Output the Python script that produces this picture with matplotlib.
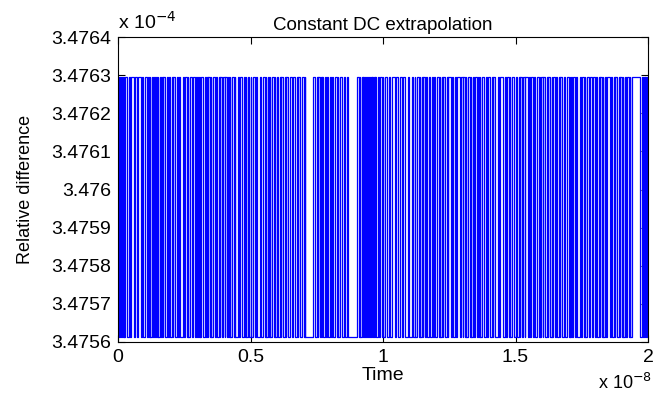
import numpy as np
import matplotlib.pyplot as plt

plt.rcParams['font.family'] = ['Liberation Sans', 'DejaVu Sans']

# switching instants of the relative difference, in units of 1e-8 s
switch_times = [
    0.004, 0.008, 0.011, 0.015, 0.021, 0.026, 0.034, 0.049, 0.072, 0.075,
    0.094, 0.102, 0.109, 0.113, 0.121, 0.128, 0.140, 0.143, 0.151, 0.158,
    0.162, 0.170, 0.177, 0.185, 0.196, 0.208, 0.215, 0.223, 0.234, 0.253,
    0.264, 0.272, 0.279, 0.283, 0.298, 0.302, 0.309, 0.313, 0.321, 0.328,
    0.332, 0.340, 0.351, 0.358, 0.374, 0.385, 0.392, 0.404, 0.411, 0.415,
    0.423, 0.430, 0.442, 0.460, 0.468, 0.475, 0.483, 0.491, 0.502, 0.509,
    0.525, 0.547, 0.558, 0.566, 0.574, 0.581, 0.592, 0.600, 0.604, 0.615,
    0.623, 0.634, 0.642, 0.649, 0.668, 0.679, 0.687, 0.694, 0.706, 0.736,
    0.743, 0.755, 0.762, 0.770, 0.774, 0.781, 0.792, 0.800, 0.811, 0.819,
    0.830, 0.838, 0.845, 0.864, 0.868, 0.902, 0.913, 0.925, 0.928, 0.932,
    0.936, 0.940, 0.943, 0.947, 0.951, 0.958, 0.962, 0.970, 0.974, 0.989,
    1.000, 1.008, 1.015, 1.034, 1.057, 1.064, 1.083, 1.109, 1.121, 1.128,
    1.140, 1.151, 1.166, 1.185, 1.196, 1.204, 1.215, 1.226, 1.234, 1.245,
    1.264, 1.279, 1.291, 1.302, 1.313, 1.321, 1.332, 1.347, 1.355, 1.358,
    1.366, 1.374, 1.381, 1.396, 1.404, 1.415, 1.423, 1.442, 1.453, 1.468,
    1.479, 1.487, 1.506, 1.517, 1.525, 1.536, 1.547, 1.558, 1.574, 1.581,
    1.592, 1.604, 1.611, 1.623, 1.638, 1.642, 1.657, 1.668, 1.675, 1.694,
    1.706, 1.717, 1.732, 1.751, 1.762, 1.770, 1.789, 1.792, 1.808, 1.819,
    1.830, 1.845, 1.864, 1.875, 1.883, 1.894, 1.906, 1.921, 1.932, 1.940,
    1.970, 1.977, 1.981, 1.989, 1.992, 1.996,
]
# one-sample spikes (dark double lines in the plot), same units
spike_times = [
    0.018, 0.041, 0.060, 0.085, 0.117, 0.133, 0.147, 0.166, 0.190, 0.203,
    0.228, 0.245, 0.259, 0.290, 0.306, 0.336, 0.346, 0.366, 0.380, 0.398,
    0.419, 0.436, 0.452, 0.479, 0.496, 0.517, 0.536, 0.553, 0.570, 0.587,
    0.610, 0.629, 0.657, 0.675, 0.700, 0.750, 0.766, 0.786, 0.805, 0.825,
    0.852, 0.908, 0.919, 0.954, 0.966, 0.981, 0.995, 1.021, 1.045, 1.072,
    1.095, 1.115, 1.134, 1.146, 1.159, 1.175, 1.190, 1.210, 1.221, 1.240,
    1.255, 1.272, 1.296, 1.308, 1.327, 1.340, 1.362, 1.388, 1.410, 1.433,
    1.460, 1.474, 1.496, 1.512, 1.530, 1.552, 1.566, 1.587, 1.598, 1.617,
    1.632, 1.650, 1.663, 1.684, 1.700, 1.711, 1.725, 1.742, 1.757, 1.778,
    1.800, 1.814, 1.825, 1.838, 1.855, 1.870, 1.889, 1.900, 1.914, 1.927,
    1.985,
]
spike_width = 0.004
# the two levels the signal toggles between (units of 1e-4)
high_level = 3.476296
low_level = 3.475613
t_end = 2.0

x_ticks = [0, 0.5, 1, 1.5, 2]
x_ticklabels = ['0', '0.5', '1', '1.5', '2']
y_ticks = [3.4756, 3.4757, 3.4758, 3.4759, 3.4760, 3.4761, 3.4762, 3.4763, 3.4764]
y_ticklabels = ['3.4756', '3.4757', '3.4758', '3.4759', '3.476',
                '3.4761', '3.4762', '3.4763', '3.4764']

# build the step signal, starting high at t=0; every instant toggles the level
toggles = sorted(switch_times + spike_times + [s + spike_width for s in spike_times])
t = np.array([0.0] + toggles + [t_end])
levels = np.array([high_level if i % 2 == 0 else low_level for i in range(len(t))])
levels[-1] = levels[-2]

fig = plt.figure(figsize=(6.58, 4.0), dpi=100)
ax = fig.add_axes([118 / 658, 1 - 342 / 400, 530 / 658, 305 / 400])
ax.plot(t, levels, drawstyle='steps-post', color='#0000ff', lw=0.9)

ax.set_xlim(0, 2)
ax.set_ylim(3.4756, 3.4764)
ax.set_xticks(x_ticks)
ax.set_xticklabels(x_ticklabels)
ax.set_yticks(y_ticks)
ax.set_yticklabels(y_ticklabels)
ax.tick_params(direction='in', top=True, right=True, length=5, width=0.8,
               labelsize=14, pad=5)
for s in ax.spines.values():
    s.set_linewidth(0.8)

ax.set_title('Constant DC extrapolation', fontsize=13.5, pad=5)
ax.set_xlabel('Time', fontsize=14, labelpad=1)
ax.set_ylabel('Relative difference', fontsize=13, labelpad=12)

fig.text(118 / 658, 1 - 22 / 400, r'x 10$^{-4}$', fontsize=14, va='center', ha='left')
fig.text(598 / 658, 1 - 383 / 400, r'x 10$^{-8}$', fontsize=13, va='center', ha='left')

fig.savefig('out.png', dpi=100)
